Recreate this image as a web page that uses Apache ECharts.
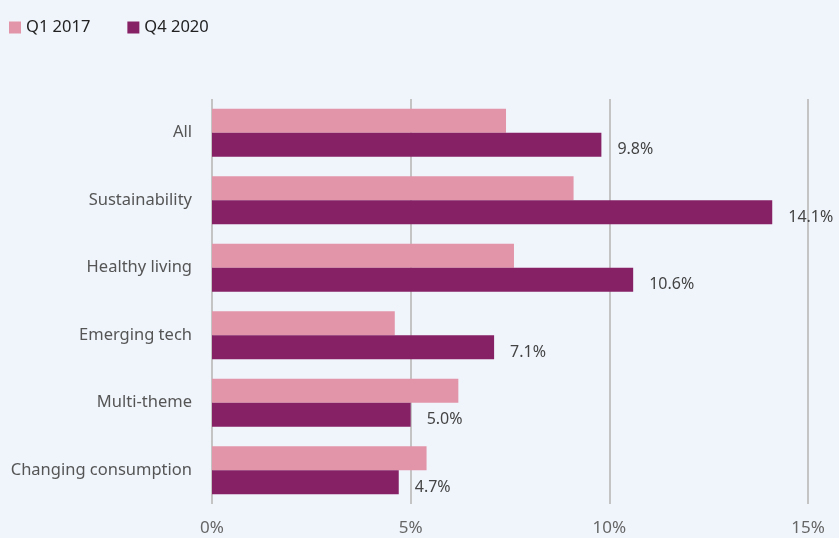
<!DOCTYPE html>
<html><head><meta charset="utf-8">
<script src="https://cdn.jsdelivr.net/npm/echarts@6/dist/echarts.min.js"></script>
<style>html,body{margin:0;padding:0;background:#f0f5fc;}#c{width:839px;height:538px;}</style>
</head><body><div id="c"></div>
<script>
var categories = ["All","Sustainability","Healthy living","Emerging tech","Multi-theme","Changing consumption"];
var seriesNames = ["Q1 2017","Q4 2020"];
var q1_2017 = [7.4, 9.1, 7.6, 4.6, 6.2, 5.4];
var q4_2020 = [9.8, 14.1, 10.6, 7.1, 5.0, 4.7];
var tickLabels = ["0%","5%","10%","15%"];

var chart = echarts.init(document.getElementById('c'));
var font = "'Source Sans Pro','Noto Sans',sans-serif";
chart.setOption({
  backgroundColor: '#f0f5fc',
  animation: false,
  legend: {
    left: 4, top: 14, itemWidth: 12, itemHeight: 12, itemGap: 37,
    icon: 'rect',
    textStyle: {fontFamily: font, fontSize: 16.5, color: '#222'},
    data: seriesNames
  },
  grid: {left: 212, right: 31, top: 99, bottom: 34, containLabel: false},
  xAxis: {
    type: 'value', min: 0, max: 15, interval: 5,
    axisLine: {show: false}, axisTick: {show: false},
    splitLine: {lineStyle: {color: '#c4c4c4', width: 2}},
    axisLabel: {margin: 16, fontFamily: font, fontSize: 17, color: '#666',
      formatter: function(v){ return tickLabels[v/5]; }}
  },
  yAxis: {
    type: 'category', inverse: true, data: categories,
    axisLine: {show: false}, axisTick: {show: false},
    axisLabel: {margin: 20, fontFamily: font, fontSize: 16.5, color: '#555'}
  },
  series: [
    {name: seriesNames[0], type: 'bar', data: q1_2017, barGap: '0%', barCategoryGap: '29%',
     itemStyle: {color: '#e295a8'}},
    {name: seriesNames[1], type: 'bar', data: q4_2020, barGap: '0%', barCategoryGap: '29%',
     itemStyle: {color: '#862165'},
     label: {show: true, position: 'right', distance: 16, offset: [0, 5], fontFamily: font, fontSize: 16, color: '#444',
       formatter: function(p){ return p.value.toFixed(1) + '%'; }}}
  ]
});
</script></body></html>
